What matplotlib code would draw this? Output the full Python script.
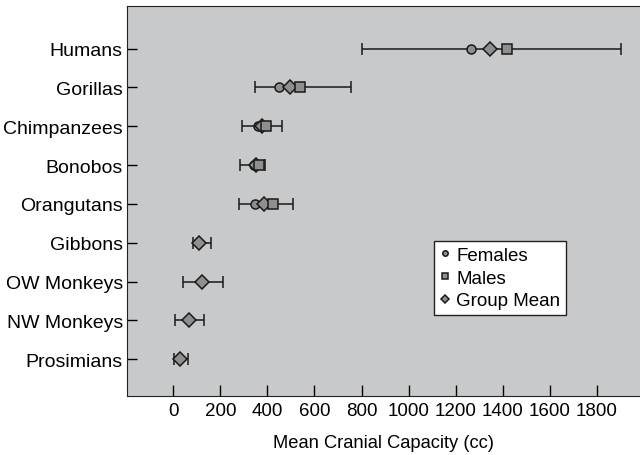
import numpy as np
import matplotlib
matplotlib.use("Agg")
from matplotlib import pyplot as plt

# data (cc)
groups = ["Humans", "Gorillas", "Chimpanzees", "Bonobos", "Orangutans",
          "Gibbons", "OW Monkeys", "NW Monkeys", "Prosimians"]
females = [1266, 451, 361, 343, 346, np.nan, np.nan, np.nan, np.nan]
males = [1420, 540, 393, 363, 423, np.nan, np.nan, np.nan, np.nan]
group_mean = [1347, 495, 376, 352, 387, 108, 123, 68, 28]
range_lo = [801, 349, 291, 284, 278, 85, 43, 7, 3]
range_hi = [1905, 754, 462, 390, 509, 160, 213, 130, 61]

plt.rcParams['font.family'] = ['Liberation Sans', 'DejaVu Sans']

fig = plt.figure(figsize=(6.4, 4.56), dpi=100)
ax = fig.add_axes([127 / 640, 1 - 397 / 456, 1 - 127 / 640, 390 / 456])
ax.set_facecolor('#c8c9cb')

y = np.arange(len(groups))[::-1] + 1
gm = np.array(group_mean)
xerr = [gm - np.array(range_lo), np.array(range_hi) - gm]

ax.errorbar(gm, y, xerr=xerr, fmt='none', ecolor='#1a1a1a', elinewidth=1.1,
            capsize=4.5, capthick=1.1, zorder=2)
mk = dict(linestyle='none', markerfacecolor='#8f8f8f', markeredgecolor='#1a1a1a',
          markeredgewidth=1.1)
h_f, = ax.plot(females, y, marker='o', markersize=6.5, zorder=3, label='Females', **mk)
h_gm, = ax.plot(group_mean, y, marker='D', markersize=7, zorder=4, label='Group Mean', **mk)
h_m, = ax.plot(males, y, marker='s', markersize=6.5, zorder=5, label='Males', **mk)

ax.set_xlim(-197, 1984)
ax.set_ylim(0.05, 10.1)
ax.set_yticks(y)
ax.set_yticklabels(groups, fontsize=14)
ax.set_xticks(np.arange(0, 1801, 200))
ax.set_xticklabels([str(v) for v in range(0, 1801, 200)], fontsize=13.5)
ax.tick_params(axis='y', direction='in', length=7, width=1, pad=3)
ax.tick_params(axis='x', direction='in', length=8, width=1, pad=4)
ax.set_xlabel('Mean Cranial Capacity (cc)', fontsize=13.2, labelpad=11)
ax.spines['right'].set_visible(False)
for s in ['left', 'bottom', 'top']:
    ax.spines[s].set_color('#222222')

leg = ax.legend(handles=[h_f, h_m, h_gm], loc='upper left',
                bbox_to_anchor=(434 / 640, 1 - 242 / 456), bbox_transform=fig.transFigure,
                fontsize=13.5, markerscale=0.6, handlelength=0.6, handletextpad=0.3,
                labelspacing=0.3, borderpad=0.3, borderaxespad=0,
                fancybox=False, framealpha=1, edgecolor='#222222')
leg.get_frame().set_linewidth(1.0)

fig.savefig('out.png', dpi=100)
